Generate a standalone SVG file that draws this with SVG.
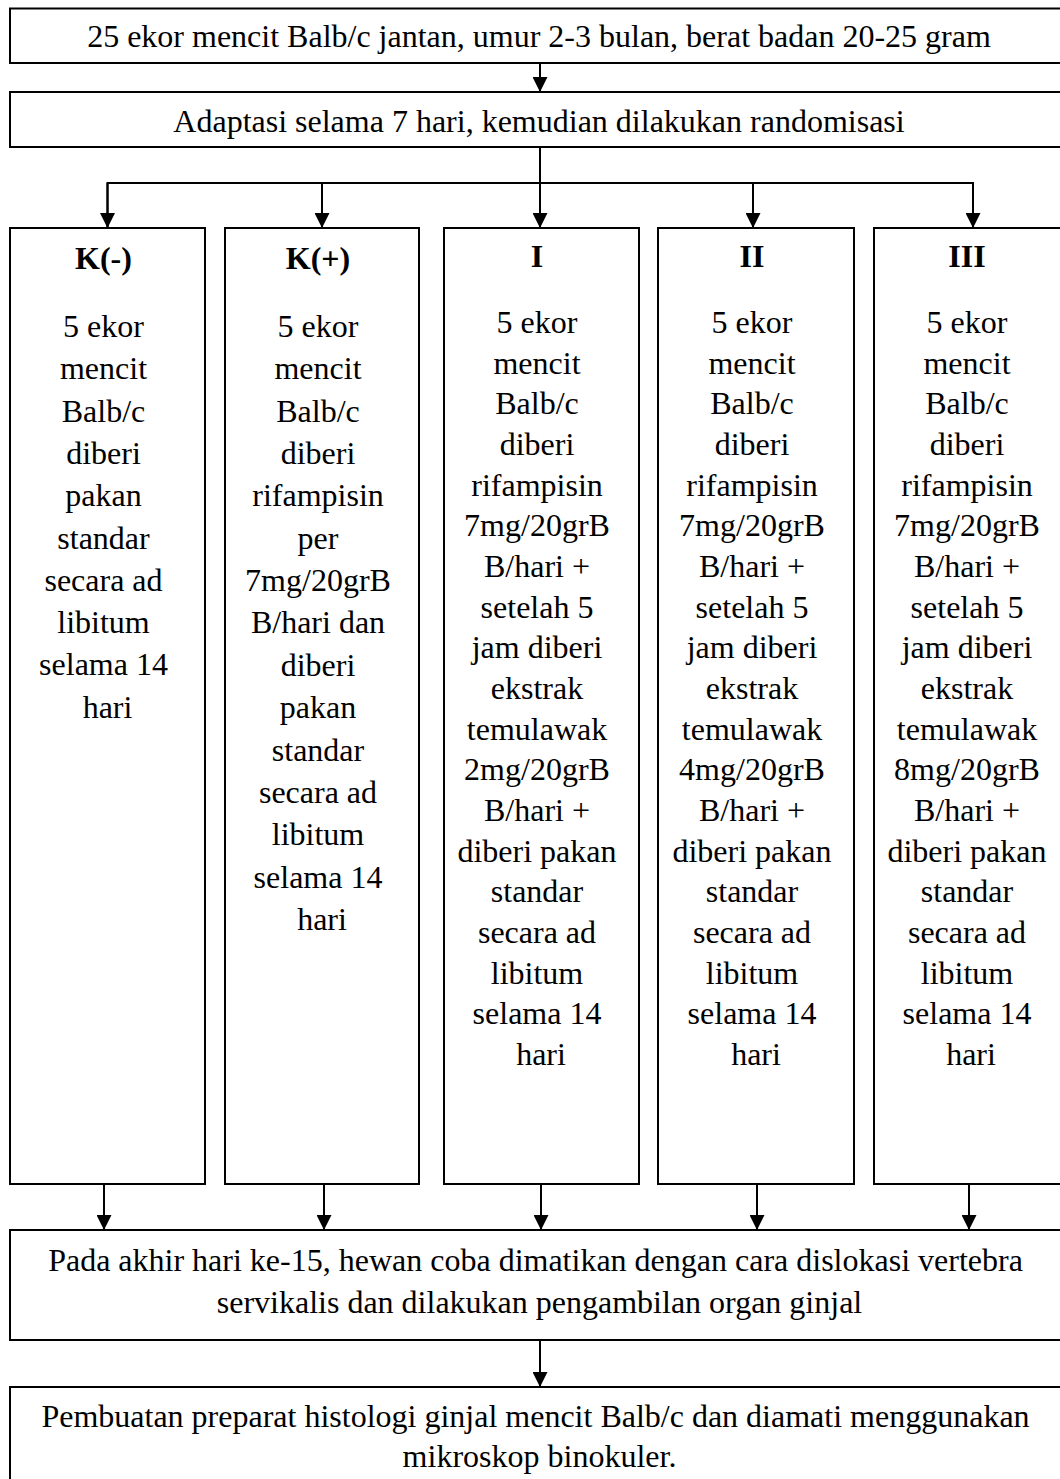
<svg xmlns="http://www.w3.org/2000/svg" width="1060" height="1479" viewBox="0 0 1060 1479">
<style>
  .box { fill: #ffffff; stroke: #000000; stroke-width: 2; }
  .conn { fill: none; stroke: #000000; stroke-width: 2; }
  .t { font-family: "Liberation Serif", "Times New Roman", serif; font-size: 32px; fill: #000000; text-anchor: middle; }
  .b { font-weight: bold; }
</style>
<defs>
  <marker id="arrow" markerUnits="userSpaceOnUse" markerWidth="15" markerHeight="15" refX="15" refY="7.5" orient="auto">
    <path d="M0,0 L15,7.5 L0,15 Z" fill="#000000"/>
  </marker>
</defs>
<rect x="0" y="0" width="1060" height="1479" fill="#ffffff"/>

<g id="connectors">
  <line class="conn" x1="540" y1="63" x2="540" y2="92" marker-end="url(#arrow)"/>
  <line class="conn" x1="540" y1="147" x2="540" y2="228" marker-end="url(#arrow)"/>
  <polyline class="conn" points="107.5,228 107.5,183 973,183 973,228"/>
  <line class="conn" x1="107.5" y1="183" x2="107.5" y2="228" marker-end="url(#arrow)"/>
  <line class="conn" x1="322" y1="183" x2="322" y2="228" marker-end="url(#arrow)"/>
  <line class="conn" x1="753" y1="183" x2="753" y2="228" marker-end="url(#arrow)"/>
  <line class="conn" x1="973" y1="183" x2="973" y2="228" marker-end="url(#arrow)"/>
  <line class="conn" x1="104" y1="1184" x2="104" y2="1230" marker-end="url(#arrow)"/>
  <line class="conn" x1="324" y1="1184" x2="324" y2="1230" marker-end="url(#arrow)"/>
  <line class="conn" x1="541" y1="1184" x2="541" y2="1230" marker-end="url(#arrow)"/>
  <line class="conn" x1="757" y1="1184" x2="757" y2="1230" marker-end="url(#arrow)"/>
  <line class="conn" x1="969" y1="1184" x2="969" y2="1230" marker-end="url(#arrow)"/>
  <line class="conn" x1="540" y1="1340" x2="540" y2="1387" marker-end="url(#arrow)"/>
</g>

<g id="node-start">
  <rect class="box" x="10" y="8.5" width="1070" height="54.5"/>
  <text class="t" x="539" y="46.7">25 ekor mencit Balb/c jantan, umur 2-3 bulan, berat badan 20-25 gram</text>
</g>

<g id="node-adaptasi">
  <rect class="box" x="10" y="92" width="1070" height="55"/>
  <text class="t" x="539" y="131.7">Adaptasi selama 7 hari, kemudian dilakukan randomisasi</text>
</g>

<g id="node-kneg">
  <rect class="box" x="10" y="228" width="195" height="956"/>
  <text class="t">
    <tspan class="b" x="107.5" y="269">K(-)</tspan>
    <tspan x="107.5" y="337">5 ekor</tspan>
    <tspan x="107.5" y="379.3">mencit</tspan>
    <tspan x="107.5" y="421.6">Balb/c</tspan>
    <tspan x="107.5" y="463.9">diberi</tspan>
    <tspan x="107.5" y="506.2">pakan</tspan>
    <tspan x="107.5" y="548.5">standar</tspan>
    <tspan x="107.5" y="590.8">secara ad</tspan>
    <tspan x="107.5" y="633.1">libitum</tspan>
    <tspan x="107.5" y="675.4">selama 14</tspan>
    <tspan x="107.5" y="717.7">hari</tspan>
  </text>
</g>

<g id="node-kpos">
  <rect class="box" x="225" y="228" width="194" height="956"/>
  <text class="t">
    <tspan class="b" x="322" y="269">K(+)</tspan>
    <tspan x="322" y="337">5 ekor</tspan>
    <tspan x="322" y="379.35">mencit</tspan>
    <tspan x="322" y="421.7">Balb/c</tspan>
    <tspan x="322" y="464.05">diberi</tspan>
    <tspan x="322" y="506.4">rifampisin</tspan>
    <tspan x="322" y="548.75">per</tspan>
    <tspan x="322" y="591.1">7mg/20grB</tspan>
    <tspan x="322" y="633.45">B/hari dan</tspan>
    <tspan x="322" y="675.8">diberi</tspan>
    <tspan x="322" y="718.15">pakan</tspan>
    <tspan x="322" y="760.5">standar</tspan>
    <tspan x="322" y="802.85">secara ad</tspan>
    <tspan x="322" y="845.2">libitum</tspan>
    <tspan x="322" y="887.55">selama 14</tspan>
    <tspan x="322" y="929.9">hari</tspan>
  </text>
</g>

<g id="node-I">
  <rect class="box" x="444" y="228" width="195" height="956"/>
  <text class="t">
    <tspan class="b" x="541" y="267">I</tspan>
    <tspan x="541" y="333">5 ekor</tspan>
    <tspan x="541" y="373.7">mencit</tspan>
    <tspan x="541" y="414.3">Balb/c</tspan>
    <tspan x="541" y="455">diberi</tspan>
    <tspan x="541" y="495.7">rifampisin</tspan>
    <tspan x="541" y="536.4">7mg/20grB</tspan>
    <tspan x="541" y="577">B/hari +</tspan>
    <tspan x="541" y="617.7">setelah 5</tspan>
    <tspan x="541" y="658.4">jam diberi</tspan>
    <tspan x="541" y="699">ekstrak</tspan>
    <tspan x="541" y="739.7">temulawak</tspan>
    <tspan x="541" y="780.4">2mg/20grB</tspan>
    <tspan x="541" y="821">B/hari +</tspan>
    <tspan x="541" y="861.7">diberi pakan</tspan>
    <tspan x="541" y="902.4">standar</tspan>
    <tspan x="541" y="943">secara ad</tspan>
    <tspan x="541" y="983.7">libitum</tspan>
    <tspan x="541" y="1024.4">selama 14</tspan>
    <tspan x="541" y="1065">hari</tspan>
  </text>
</g>

<g id="node-II">
  <rect class="box" x="658" y="228" width="196" height="956"/>
  <text class="t">
    <tspan class="b" x="756" y="267">II</tspan>
    <tspan x="756" y="333">5 ekor</tspan>
    <tspan x="756" y="373.7">mencit</tspan>
    <tspan x="756" y="414.3">Balb/c</tspan>
    <tspan x="756" y="455">diberi</tspan>
    <tspan x="756" y="495.7">rifampisin</tspan>
    <tspan x="756" y="536.4">7mg/20grB</tspan>
    <tspan x="756" y="577">B/hari +</tspan>
    <tspan x="756" y="617.7">setelah 5</tspan>
    <tspan x="756" y="658.4">jam diberi</tspan>
    <tspan x="756" y="699">ekstrak</tspan>
    <tspan x="756" y="739.7">temulawak</tspan>
    <tspan x="756" y="780.4">4mg/20grB</tspan>
    <tspan x="756" y="821">B/hari +</tspan>
    <tspan x="756" y="861.7">diberi pakan</tspan>
    <tspan x="756" y="902.4">standar</tspan>
    <tspan x="756" y="943">secara ad</tspan>
    <tspan x="756" y="983.7">libitum</tspan>
    <tspan x="756" y="1024.4">selama 14</tspan>
    <tspan x="756" y="1065">hari</tspan>
  </text>
</g>

<g id="node-III">
  <rect class="box" x="874" y="228" width="200" height="956"/>
  <text class="t">
    <tspan class="b" x="971" y="267">III</tspan>
    <tspan x="971" y="333">5 ekor</tspan>
    <tspan x="971" y="373.7">mencit</tspan>
    <tspan x="971" y="414.3">Balb/c</tspan>
    <tspan x="971" y="455">diberi</tspan>
    <tspan x="971" y="495.7">rifampisin</tspan>
    <tspan x="971" y="536.4">7mg/20grB</tspan>
    <tspan x="971" y="577">B/hari +</tspan>
    <tspan x="971" y="617.7">setelah 5</tspan>
    <tspan x="971" y="658.4">jam diberi</tspan>
    <tspan x="971" y="699">ekstrak</tspan>
    <tspan x="971" y="739.7">temulawak</tspan>
    <tspan x="971" y="780.4">8mg/20grB</tspan>
    <tspan x="971" y="821">B/hari +</tspan>
    <tspan x="971" y="861.7">diberi pakan</tspan>
    <tspan x="971" y="902.4">standar</tspan>
    <tspan x="971" y="943">secara ad</tspan>
    <tspan x="971" y="983.7">libitum</tspan>
    <tspan x="971" y="1024.4">selama 14</tspan>
    <tspan x="971" y="1065">hari</tspan>
  </text>
</g>

<g id="node-akhir">
  <rect class="box" x="10" y="1230" width="1070" height="110"/>
  <text class="t">
    <tspan x="539.5" y="1271">Pada akhir hari ke-15, hewan coba dimatikan dengan cara dislokasi vertebra</tspan>
    <tspan x="539.5" y="1313">servikalis dan dilakukan pengambilan organ ginjal</tspan>
  </text>
</g>

<g id="node-histologi">
  <rect class="box" x="10" y="1387" width="1070" height="110"/>
  <text class="t">
    <tspan x="539.5" y="1427">Pembuatan preparat histologi ginjal mencit Balb/c dan diamati menggunakan</tspan>
    <tspan x="539.5" y="1467">mikroskop binokuler.</tspan>
  </text>
</g>
</svg>
